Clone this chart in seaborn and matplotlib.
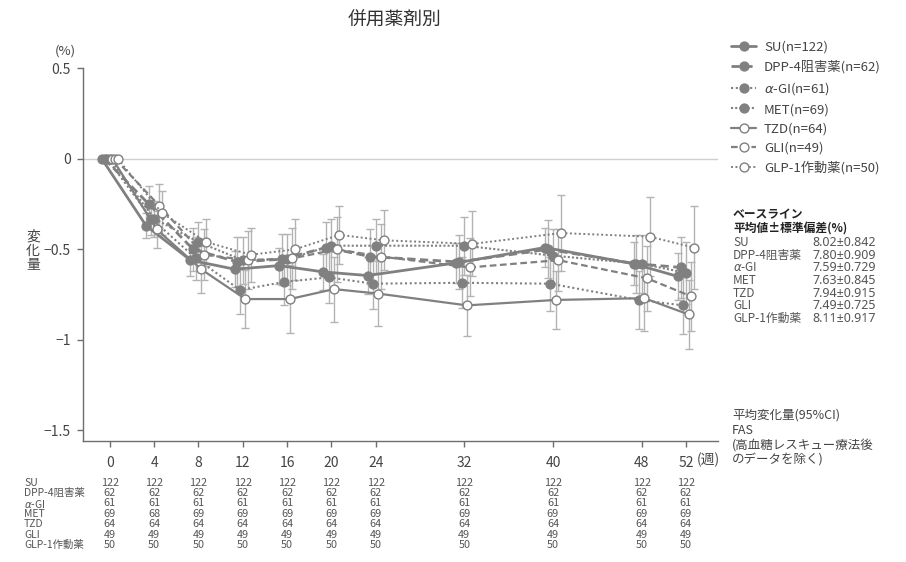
import numpy as np
import pandas as pd
import matplotlib
matplotlib.use("Agg")
import matplotlib.pyplot as plt
import matplotlib.transforms as mtransforms
from matplotlib.lines import Line2D
import seaborn as sns

# ---------------- data ----------------
weeks = [0, 4, 8, 12, 16, 20, 24, 32, 40, 48, 52]
week_labels = ["0", "4", "8", "12", "16", "20", "24", "32", "40", "48", "52"]
groups = ["SU", "DPP-4阻害薬", "$\\alpha$-GI", "MET", "TZD", "GLI", "GLP-1作動薬"]
group_n = [122, 62, 61, 69, 64, 49, 50]

su_mean = [0, -0.37, -0.56, -0.61, -0.59, -0.625, -0.645, -0.575, -0.49, -0.58, -0.65]
dpp_mean = [0, -0.25, -0.50, -0.57, -0.555, -0.49, -0.54, -0.57, -0.50, -0.58, -0.60]
agi_mean = [0, -0.33, -0.55, -0.725, -0.68, -0.655, -0.69, -0.685, -0.69, -0.78, -0.81]
met_mean = [0, -0.33, -0.46, -0.56, -0.555, -0.48, -0.48, -0.48, -0.535, -0.58, -0.63]
tzd_mean = [0, -0.39, -0.61, -0.775, -0.775, -0.72, -0.745, -0.81, -0.78, -0.77, -0.86]
gli_mean = [0, -0.26, -0.53, -0.56, -0.55, -0.50, -0.54, -0.60, -0.56, -0.66, -0.76]
glp_mean = [0, -0.30, -0.46, -0.53, -0.50, -0.42, -0.45, -0.47, -0.41, -0.43, -0.49]

su_ci = [0, 0.07, 0.09, 0.10, 0.10, 0.10, 0.10, 0.11, 0.11, 0.12, 0.13]
dpp_ci = [0, 0.10, 0.12, 0.14, 0.14, 0.14, 0.15, 0.15, 0.16, 0.16, 0.17]
agi_ci = [0, 0.09, 0.12, 0.13, 0.13, 0.14, 0.14, 0.14, 0.15, 0.16, 0.16]
met_ci = [0, 0.10, 0.11, 0.13, 0.14, 0.15, 0.15, 0.16, 0.15, 0.16, 0.17]
tzd_ci = [0, 0.10, 0.13, 0.16, 0.19, 0.18, 0.18, 0.17, 0.16, 0.18, 0.19]
gli_ci = [0, 0.12, 0.14, 0.16, 0.17, 0.18, 0.18, 0.16, 0.17, 0.18, 0.19]
glp_ci = [0, 0.12, 0.13, 0.15, 0.17, 0.16, 0.165, 0.18, 0.21, 0.22, 0.23]

n_su = [122, 122, 122, 122, 122, 122, 122, 122, 122, 122, 122]
n_dpp = [62, 62, 62, 62, 62, 62, 62, 62, 62, 62, 62]
n_agi = [61, 61, 61, 61, 61, 61, 61, 61, 61, 61, 61]
n_met = [69, 68, 69, 69, 69, 69, 69, 69, 69, 69, 69]
n_tzd = [64, 64, 64, 64, 64, 64, 64, 64, 64, 64, 64]
n_gli = [49, 49, 49, 49, 49, 49, 49, 49, 49, 49, 49]
n_glp = [50, 50, 50, 50, 50, 50, 50, 50, 50, 50, 50]

baseline_values = ["8.02±0.842", "7.80±0.909", "7.59±0.729", "7.63±0.845",
                   "7.94±0.915", "7.49±0.725", "8.11±0.917"]

yticks = [-1.5, -1, -0.5, 0, 0.5]
ytick_labels = ["−1.5", "−1", "−0.5", "0", "0.5"]

means = [su_mean, dpp_mean, agi_mean, met_mean, tzd_mean, gli_mean, glp_mean]
cis = [su_ci, dpp_ci, agi_ci, met_ci, tzd_ci, gli_ci, glp_ci]
ns = [n_su, n_dpp, n_agi, n_met, n_tzd, n_gli, n_glp]

# ---------------- styles ----------------
offsets = [-0.72, -0.48, -0.24, 0.0, 0.24, 0.48, 0.72]
GREY = "#808080"
styles = [
    dict(ls="-", lw=2.0, filled=True),
    dict(ls=(0, (3, 1.6)), lw=2.0, filled=True),
    dict(ls=(0, (1, 1.3)), lw=1.5, filled=True),
    dict(ls=(0, (1, 1.0)), lw=1.5, filled=True),
    dict(ls="-", lw=1.6, filled=False),
    dict(ls=(0, (3, 1.6)), lw=1.6, filled=False),
    dict(ls=(0, (1, 1.3)), lw=1.4, filled=False),
]

sns.set_theme(style="white")
plt.rcParams["font.family"] = ["Noto Sans CJK JP", "DejaVu Sans"]
plt.rcParams["axes.unicode_minus"] = False

fig = plt.figure(figsize=(9.06, 5.62), dpi=100)
W, H = 906, 562
ax_left, ax_right, ax_top, ax_bot = 82.7, 718, 68.5, 441
ax = fig.add_axes([ax_left / W, 1 - ax_bot / H, (ax_right - ax_left) / W, (ax_bot - ax_top) / H])

ax.axhline(0, color="#cfcfcf", lw=1.0, zorder=0)

handles = []
for i in range(len(groups)):
    st = styles[i]
    x = np.array(weeks, dtype=float) + offsets[i]
    df = pd.DataFrame({"x": x, "change": means[i]})
    mfc = GREY if st["filled"] else "white"
    ci = np.array(cis[i])
    mask = ci > 0
    ax.errorbar(x[mask], np.array(means[i])[mask], yerr=ci[mask], fmt="none",
                ecolor="#b3b3b3", elinewidth=1.0, capsize=3, capthick=1.0, zorder=2)
    sns.lineplot(data=df, x="x", y="change", ax=ax, color=GREY, linestyle=st["ls"],
                 linewidth=st["lw"], marker="o", markersize=6.4, markerfacecolor=mfc,
                 markeredgecolor=GREY, markeredgewidth=1.0, zorder=3 + i, legend=False)
    handles.append(Line2D([], [], color=GREY, linestyle=st["ls"], linewidth=st["lw"],
                          marker="o", markersize=6.4, markerfacecolor=mfc,
                          markeredgecolor=GREY, markeredgewidth=1.0))

ax.set_xlim(-2.45, 54.9)
ax.set_ylim(-1.56, 0.5)
ax.set_yticks(yticks)
ax.set_yticklabels(ytick_labels)
ax.set_xticks(weeks)
ax.set_xticklabels(week_labels)
ax.set_xlabel("")
ax.set_ylabel("")
for s in ["top", "right"]:
    ax.spines[s].set_visible(False)
for s in ["left", "bottom"]:
    ax.spines[s].set_color("#6e6e6e")
    ax.spines[s].set_linewidth(1.0)
ax.tick_params(axis="both", which="major", direction="out", length=4.5, width=1.0,
               color="#6e6e6e", labelsize=10, labelcolor="#444444", pad=4,
               left=True, bottom=True)
ax.tick_params(axis="x", pad=6)

def fy(py):
    return 1 - py / H

def fx(px):
    return px / W

# title and axis texts
fig.text(fx(395), fy(20), "併用薬剤別", ha="center", va="center", fontsize=13.5, color="#333333")
fig.text(fx(65), fy(51), "(%)", ha="center", va="center", fontsize=9.5, color="#444444")
fig.text(fx(33), fy(251), "変\n化\n量", ha="center", va="center", fontsize=10,
         color="#444444", linespacing=1.0)
fig.text(fx(697), fy(460), "(週)", ha="left", va="center", fontsize=10, color="#444444")

# legend
fig.legend(handles, [f"{g}(n={n})" for g, n in zip(groups, group_n)],
           loc="upper left", bbox_to_anchor=(fx(731), fy(41)), frameon=False,
           fontsize=9.5, handlelength=1.9, handletextpad=0.6, labelspacing=0.47,
           borderpad=0, borderaxespad=0, labelcolor="#444444")

# baseline block
fig.text(fx(733), fy(215), "ベースライン", ha="left", va="center", fontsize=8.5,
         color="#222222", fontweight="bold")
fig.text(fx(733), fy(229), "平均値±標準偏差(%)", ha="left", va="center", fontsize=8.5,
         color="#222222", fontweight="bold")
for i, (g, v) in enumerate(zip(groups, baseline_values)):
    py = 242.7 + i * 12.6
    fig.text(fx(733), fy(py), g, ha="left", va="center", fontsize=8.5, color="#555555")
    fig.text(fx(876), fy(py), v, ha="right", va="center", fontsize=9, color="#555555",
             family=["Noto Sans", "DejaVu Sans"])

# footnote
foot = ["平均変化量(95%CI)", "FAS", "(高血糖レスキュー療法後", "のデータを除く)"]
for i, t in enumerate(foot):
    fig.text(fx(732), fy(415 + i * 15), t, ha="left", va="center", fontsize=9, color="#444444")

# number-at-risk table
trans = mtransforms.blended_transform_factory(ax.transData, fig.transFigure)
for r, (g, nrow) in enumerate(zip(groups, ns)):
    py = 482.7 + r * 10.4
    fig.text(fx(24), fy(py), g, ha="left", va="center", fontsize=7.5, color="#555555")
    for wk, nv in zip(weeks, nrow):
        ax.text(wk, fy(py), str(nv), transform=trans, ha="center", va="center",
                fontsize=7.8, color="#555555", clip_on=False)

fig.savefig("out.png", dpi=100)
